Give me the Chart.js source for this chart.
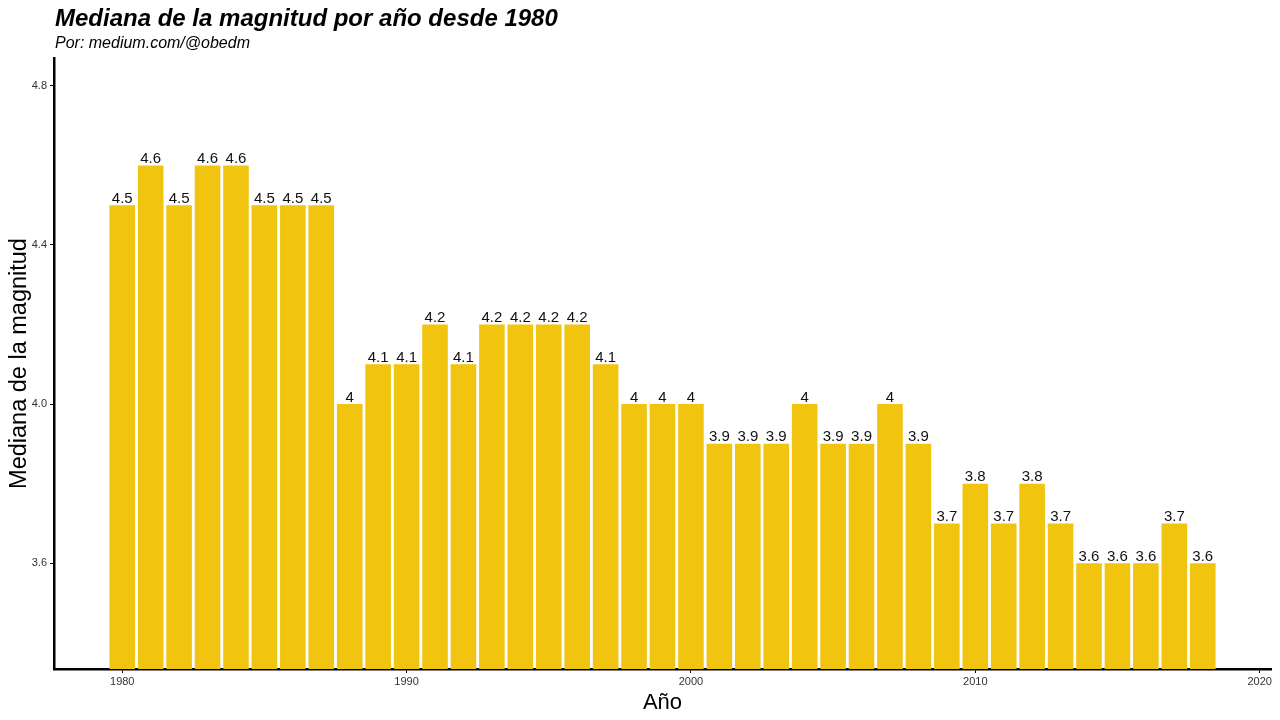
<!DOCTYPE html>
<html>
<head>
<meta charset="utf-8">
<script src="https://cdn.jsdelivr.net/npm/chart.js@4.4.1/dist/chart.umd.min.js"></script>
<style>
  html, body { margin: 0; padding: 0; background: #fff; }
  #wrap { width: 1280px; height: 720px; position: relative; }
</style>
</head>
<body>
<div id="wrap"><canvas id="magChart" width="1280" height="720"></canvas></div>
<script>
"use strict"

const years = [1980, 1981, 1982, 1983, 1984, 1985, 1986, 1987, 1988, 1989,
  1990, 1991, 1992, 1993, 1994, 1995, 1996, 1997, 1998, 1999,
  2000, 2001, 2002, 2003, 2004, 2005, 2006, 2007, 2008, 2009,
  2010, 2011, 2012, 2013, 2014, 2015, 2016, 2017, 2018]
const medianas = [4.5, 4.6, 4.5, 4.6, 4.6, 4.5, 4.5, 4.5, 4.0, 4.1,
  4.1, 4.2, 4.1, 4.2, 4.2, 4.2, 4.2, 4.1, 4.0, 4.0,
  4.0, 3.9, 3.9, 3.9, 4.0, 3.9, 3.9, 4.0, 3.9, 3.7,
  3.8, 3.7, 3.8, 3.7, 3.6, 3.6, 3.6, 3.7, 3.6]
const xTicks = [1980, 1990, 2000, 2010, 2020]
const yTicks = [3.6, 4.0, 4.4, 4.8]

const FONT = "'Liberation Sans', Arial, sans-serif"

// titulo y subtitulo arriba a la izquierda
const headerPlugin = {
  id: 'header',
  afterDraw: chart => {
    const ctx = chart.ctx
    ctx.save()
    ctx.fillStyle = '#000'
    ctx.textBaseline = 'alphabetic'
    ctx.textAlign = 'left'
    ctx.font = `italic bold 24px ${FONT}`
    ctx.fillText('Mediana de la magnitud por año desde 1980', 55, 26)
    ctx.font = `italic 16px ${FONT}`
    ctx.fillText('Por: medium.com/@obedm', 55, 48)
    ctx.restore()
  }
}

// etiquetas de valor sobre cada barra
const valueLabels = {
  id: 'valueLabels',
  afterDatasetsDraw: chart => {
    const ctx = chart.ctx
    const meta = chart.getDatasetMeta(0)
    ctx.save()
    ctx.fillStyle = '#111'
    ctx.font = `15px ${FONT}`
    ctx.textAlign = 'center'
    ctx.textBaseline = 'bottom'
    meta.data.forEach((bar, i) => {
      ctx.fillText(String(medianas[i]), bar.x, bar.y + 1)
    })
    ctx.restore()
  }
}

const ctx = document.getElementById('magChart')
new Chart(ctx, {
  type: 'bar',
  data: {
    datasets: [{
      data: years.map((y, i) => ({ x: y, y: medianas[i] })),
      backgroundColor: '#F1C40F',
      borderWidth: 0,
      barPercentage: 0.9,
      categoryPercentage: 1.0
    }]
  },
  options: {
    responsive: false,
    animation: false,
    layout: { padding: { top: 58, right: 9, left: 0, bottom: 0 } },
    plugins: {
      legend: { display: false },
      tooltip: { enabled: false }
    },
    scales: {
      x: {
        type: 'linear',
        min: 1977.6,
        max: 2020.4,
        offset: false,
        afterBuildTicks: scale => { scale.ticks = xTicks.map(v => ({ value: v })) },
        afterFit: scale => { scale.height = 51 },
        ticks: {
          callback: v => String(v),
          color: '#333',
          font: { family: FONT, size: 11 },
          padding: 2,
          maxRotation: 0,
          autoSkip: false
        },
        grid: { offset: false, drawOnChartArea: false, drawTicks: true, tickLength: 4, color: '#000', tickWidth: 1 },
        border: { display: true, color: '#000', width: 2.5 },
        title: {
          display: true,
          text: 'Año',
          color: '#000',
          font: { family: FONT, size: 22 },
          padding: { top: 2, bottom: 4 }
        }
      },
      y: {
        min: 3.334,
        max: 4.87,
        afterBuildTicks: scale => { scale.ticks = yTicks.map(v => ({ value: v })) },
        afterFit: scale => { scale.width = 54 },
        ticks: {
          callback: v => v.toFixed(1),
          color: '#333',
          font: { family: FONT, size: 11 },
          padding: 3,
          autoSkip: false
        },
        grid: { offset: false, drawOnChartArea: false, drawTicks: true, tickLength: 4, color: '#000', tickWidth: 1 },
        border: { display: true, color: '#000', width: 2.5 },
        title: {
          display: true,
          text: 'Mediana de la magnitud',
          color: '#000',
          font: { family: FONT, size: 23.5 },
          padding: { top: 5, bottom: 0 }
        }
      }
    }
  },
  plugins: [headerPlugin, valueLabels]
})
</script>
</body>
</html>
